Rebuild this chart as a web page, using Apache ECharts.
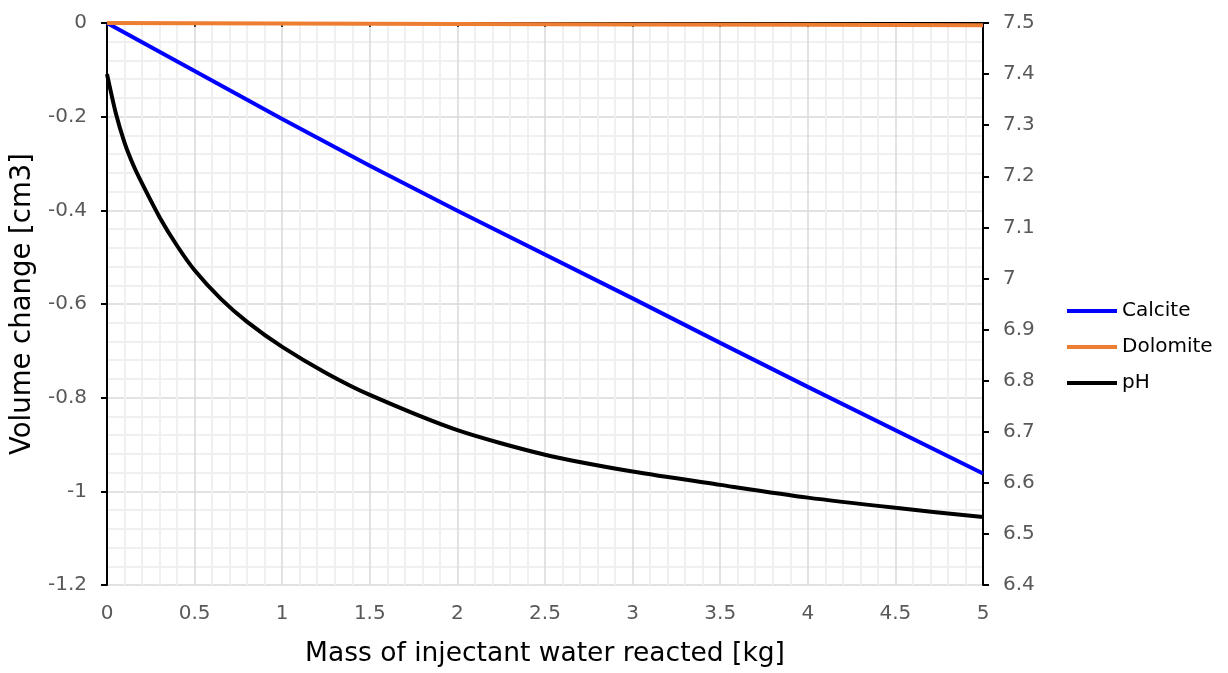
<!DOCTYPE html>
<html>
<head>
<meta charset="utf-8">
<script src="https://cdn.jsdelivr.net/npm/echarts@6/dist/echarts.min.js"></script>
<style>
html,body{margin:0;padding:0;background:#fff;}
#chart{width:1228px;height:673px;}
</style>
</head>
<body>
<div id="chart"></div>
<script>
// Mass of injectant water reacted [kg]
const calciteX = [0, 1, 1.5, 2, 3, 3.5, 4, 5];
const calciteY = [0, -0.205, -0.305, -0.401, -0.588, -0.683, -0.777, -0.962];

const dolomiteX = [0, 1, 2, 3, 4, 5];
const dolomiteY = [0, -0.001, -0.002, -0.003, -0.004, -0.005];

const phX = [0, 0.05, 0.1, 0.15, 0.2, 0.3, 0.4, 0.5, 0.65, 0.8, 1, 1.25, 1.5, 2, 2.5, 3, 3.5, 4, 4.5, 5];
const phY = [7.40, 7.324, 7.266, 7.222, 7.186, 7.120, 7.064, 7.016, 6.960, 6.915, 6.866, 6.815, 6.772, 6.703, 6.655, 6.622, 6.596, 6.571, 6.551, 6.533];

const seriesNames = ['Calcite', 'Dolomite', 'pH'];
const xAxisTitle = 'Mass of injectant water reacted [kg]';
const yAxisTitle = 'Volume change [cm3]';

const pairs = (xs, ys) => xs.map((x, i) => [x, ys[i]]);

const labelFont = { color: '#595959', fontFamily: 'DejaVu Sans', fontSize: 20 };
const majorGrid = { show: true, lineStyle: { color: '#d9d9d9', width: 1.5 } };
const minorGrid = { show: true, lineStyle: { color: '#f0f0f0', width: 2 } };

const chart = echarts.init(document.getElementById('chart'), null, { renderer: 'canvas' });
chart.setOption({
  animation: false,
  backgroundColor: '#ffffff',
  grid: { left: 107, right: 245, top: 23, bottom: 86, containLabel: false },
  legend: {
    orient: 'vertical',
    left: 1062,
    top: 296,
    itemWidth: 50,
    itemHeight: 4,
    itemGap: 16,
    icon: 'rect',
    textStyle: { fontFamily: 'DejaVu Sans', fontSize: 20, color: '#000' },
    data: seriesNames
  },
  xAxis: [
    {
      type: 'value', position: 'bottom', min: 0, max: 5, interval: 0.5,
      axisLine: { show: false }, axisTick: { show: false },
      axisLabel: Object.assign({ margin: 19 }, labelFont),
      splitLine: majorGrid,
      minorTick: { show: false, splitNumber: 5 },
      minorSplitLine: minorGrid,
      name: xAxisTitle, nameLocation: 'middle', nameGap: 56,
      nameTextStyle: { fontFamily: 'DejaVu Sans', fontSize: 26.5, color: '#000' }
    },
    {
      type: 'value', position: 'top', min: 0, max: 5, interval: 0.5,
      axisLine: { show: true, onZero: false, lineStyle: { color: '#000', width: 2 } },
      axisTick: { show: true, inside: true, length: 4, lineStyle: { color: '#000', width: 1.5 } },
      axisLabel: { show: false },
      splitLine: { show: false }
    }
  ],
  yAxis: [
    {
      type: 'value', position: 'left', min: -1.2, max: 0, interval: 0.2,
      axisLine: { show: true, onZero: false, lineStyle: { color: '#000', width: 2 } },
      axisTick: { show: true, length: 6, lineStyle: { color: '#000', width: 2 } },
      axisLabel: Object.assign({ margin: 20 }, labelFont),
      splitLine: majorGrid,
      minorTick: { show: false, splitNumber: 5 },
      minorSplitLine: minorGrid,
      name: yAxisTitle, nameLocation: 'middle', nameGap: 70,
      nameTextStyle: { fontFamily: 'DejaVu Sans', fontSize: 27.5, color: '#000' }
    },
    {
      type: 'value', position: 'right', min: 6.4, max: 7.5, interval: 0.1,
      axisLine: { show: true, onZero: false, lineStyle: { color: '#000', width: 2 } },
      axisTick: { show: true, length: 6, lineStyle: { color: '#000', width: 2 } },
      axisLabel: Object.assign({ margin: 20, formatter: v => (Math.round(v * 10) / 10).toString() }, labelFont),
      splitLine: { show: false }
    }
  ],
  series: [
    {
      name: seriesNames[0], type: 'line', xAxisIndex: 0, yAxisIndex: 0,
      data: pairs(calciteX, calciteY), showSymbol: false, symbol: 'none',
      lineStyle: { color: '#0000ff', width: 4 }, itemStyle: { color: '#0000ff' }, z: 3
    },
    {
      name: seriesNames[1], type: 'line', xAxisIndex: 0, yAxisIndex: 0,
      data: pairs(dolomiteX, dolomiteY), showSymbol: false, symbol: 'none',
      lineStyle: { color: '#ed7d31', width: 4 }, itemStyle: { color: '#ed7d31' }, z: 3
    },
    {
      name: seriesNames[2], type: 'line', xAxisIndex: 0, yAxisIndex: 1,
      data: pairs(phX, phY), showSymbol: false, symbol: 'none',
      smooth: 0.25,
      lineStyle: { color: '#000000', width: 4 }, itemStyle: { color: '#000000' }, z: 3
    }
  ]
});
</script>
</body>
</html>
